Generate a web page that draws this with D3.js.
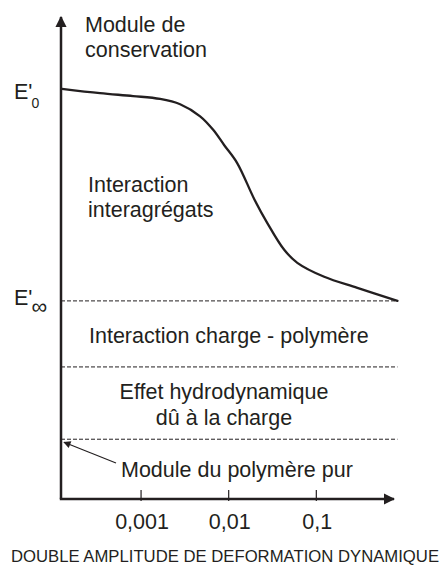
<!DOCTYPE html>
<html>
<head>
<meta charset="utf-8">
<script src="https://cdn.jsdelivr.net/npm/d3@7"></script>
<style>
  body { margin: 0; background: #fff; }
  text { font-family: "Liberation Sans", Arial, sans-serif; fill: #231f20; }
</style>
</head>
<body>
<script>
// curve: storage modulus vs double strain amplitude (arbitrary units)
const strain  = [1.25e-4, 3.4e-4, 8.1e-4, 1.65e-3, 2.79e-3, 4.72e-3, 6.65e-3, 8.9e-3,
                 0.0125, 0.0196, 0.0275, 0.043, 0.0607, 0.123, 0.294, 0.843];
const modulus = [8.51, 8.42, 8.36, 8.30, 8.19, 7.94, 7.66, 7.34,
                 6.97, 6.22, 5.73, 5.17, 4.90, 4.61, 4.38, 4.11];

// dashed levels
const levelValues = [4.11, 2.74, 1.24];

const tickValues = [0.001, 0.01, 0.1];
const tickLabels = ["0,001", "0,01", "0,1"];

const width = 448, height = 565;
const fs = 21.5;

const x = d3.scaleLog().domain([1.22e-4, 0.77]).range([61, 394]);
const y = d3.scaleLinear().domain([0, 10]).range([499, 17]);

const svg = d3.select("body").append("svg")
  .attr("width", width)
  .attr("height", height);

const defs = svg.append("defs");
defs.append("marker")
  .attr("id", "arrow")
  .attr("viewBox", "0 0 10 10")
  .attr("refX", 9).attr("refY", 5)
  .attr("markerWidth", 4.5).attr("markerHeight", 4.5)
  .attr("markerUnits", "strokeWidth")
  .attr("orient", "auto")
  .append("path")
  .attr("d", "M0,0 L10,5 L0,10 Z")
  .attr("fill", "#231f20");
defs.append("marker")
  .attr("id", "arrowSmall")
  .attr("viewBox", "0 0 10 10")
  .attr("refX", 9).attr("refY", 5)
  .attr("markerWidth", 8).attr("markerHeight", 6)
  .attr("markerUnits", "strokeWidth")
  .attr("orient", "auto")
  .append("path")
  .attr("d", "M0,0 L10,5 L0,10 Z")
  .attr("fill", "#231f20");

const x0 = x.range()[0], x1 = x.range()[1];
const yBase = y(0);

// dashed level lines
svg.selectAll(".level")
  .data(levelValues)
  .enter()
  .append("line")
  .attr("class", "level")
  .attr("x1", x0)
  .attr("x2", x(strain[strain.length - 1]))
  .attr("y1", d => y(d))
  .attr("y2", d => y(d))
  .attr("stroke", "#231f20")
  .attr("stroke-width", 1)
  .attr("stroke-dasharray", "4,2");

// curve
const pts = strain.map((s, i) => [s, modulus[i]]);
svg.append("path")
  .datum(pts)
  .attr("fill", "none")
  .attr("stroke", "#231f20")
  .attr("stroke-width", 2.3)
  .attr("stroke-linecap", "round")
  .attr("d", d3.line()
    .x(d => x(d[0]))
    .y(d => y(d[1]))
    .curve(d3.curveCatmullRom.alpha(0.5)));

// axes
svg.append("line")
  .attr("x1", x0).attr("y1", yBase)
  .attr("x2", x0).attr("y2", y.range()[1])
  .attr("stroke", "#231f20")
  .attr("stroke-width", 2.5)
  .attr("marker-end", "url(#arrow)");
svg.append("line")
  .attr("x1", x0 - 1.2).attr("y1", yBase)
  .attr("x2", x1).attr("y2", yBase)
  .attr("stroke", "#231f20")
  .attr("stroke-width", 2.5)
  .attr("marker-end", "url(#arrow)");

svg.selectAll(".tick")
  .data(tickValues)
  .enter()
  .append("line")
  .attr("class", "tick")
  .attr("x1", d => x(d)).attr("x2", d => x(d))
  .attr("y1", yBase - 9).attr("y2", yBase + 2)
  .attr("stroke", "#231f20")
  .attr("stroke-width", 1.2);

svg.selectAll(".tickLabel")
  .data(tickValues)
  .enter()
  .append("text")
  .attr("class", "tickLabel")
  .attr("x", d => x(d) + 1)
  .attr("y", 529)
  .attr("text-anchor", "middle")
  .attr("font-size", fs)
  .text((d, i) => tickLabels[i]);

svg.append("text")
  .attr("x", 225)
  .attr("y", 562)
  .attr("text-anchor", "middle")
  .attr("font-size", 16.7)
  .text("DOUBLE AMPLITUDE DE DEFORMATION DYNAMIQUE");

// y axis title
const yTitle = svg.append("text").attr("font-size", fs);
yTitle.append("tspan").attr("x", 85).attr("y", 32).text("Module de");
yTitle.append("tspan").attr("x", 85).attr("y", 57).text("conservation");

// E'0 and E'inf labels
function eLabel(yv, off, sub, subSize) {
  const g = svg.append("text").attr("font-size", fs)
    .attr("x", 14).attr("y", y(yv) + off);
  g.append("tspan").text("E'");
  g.append("tspan").attr("font-size", subSize).attr("dy", 9).attr("dx", -1).text(sub);
}
eLabel(modulus[0], 10, "0", 14);
eLabel(levelValues[0], 4, "∞", 22);

// region labels
const t1 = svg.append("text").attr("font-size", fs);
t1.append("tspan").attr("x", 88).attr("y", 192).text("Interaction");
t1.append("tspan").attr("x", 88).attr("y", 217).text("interagrégats");

svg.append("text").attr("font-size", fs)
  .attr("x", 89).attr("y", 343)
  .text("Interaction charge - polymère");

const t3 = svg.append("text").attr("font-size", fs).attr("text-anchor", "middle");
t3.append("tspan").attr("x", 224).attr("y", 399).text("Effet hydrodynamique");
t3.append("tspan").attr("x", 224).attr("y", 425).text("dû à la charge");

svg.append("text").attr("font-size", fs)
  .attr("x", 121).attr("y", 477)
  .text("Module du polymère pur");

// pointer to polymer level
svg.append("line")
  .attr("x1", 116).attr("y1", 463)
  .attr("x2", x0 + 3).attr("y2", y(levelValues[2]) + 3)
  .attr("stroke", "#231f20")
  .attr("stroke-width", 1.2)
  .attr("marker-end", "url(#arrowSmall)");
</script>
</body>
</html>
